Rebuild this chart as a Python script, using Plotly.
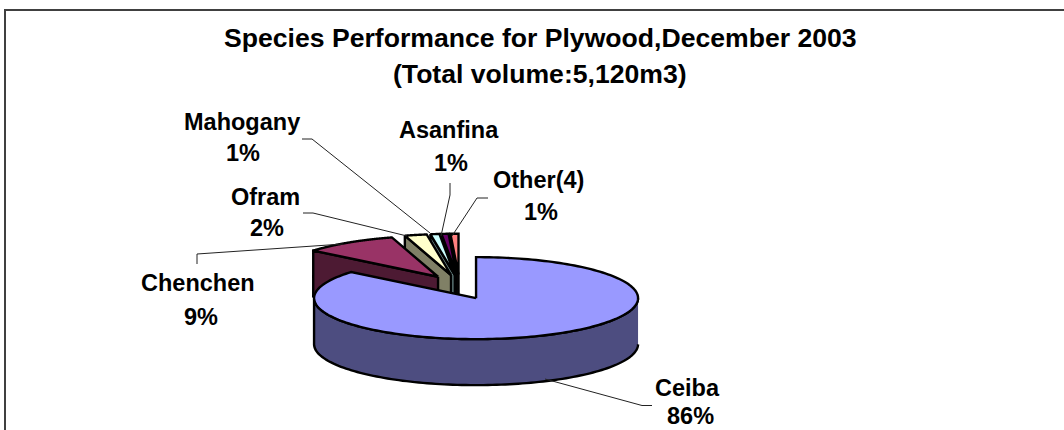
import numpy as np
import plotly.graph_objects as go

# --- data ---
species = ["Ceiba", "Chenchen", "Ofram", "Mahogany", "Asanfina", "Other(4)"]
values = [86.0, 9.4, 2.2, 0.9, 0.7, 0.8]
title_lines = ["Species Performance for Plywood,December 2003", "(Total volume:5,120m3)"]

# --- style ---
top_colors = ["#9999FF", "#993366", "#FFFFCC", "#CCFFFF", "#660066", "#FF8080"]
side_colors = ["#4D4D80", "#4D1A33", "#808066", "#668080", "#330033", "#804040"]
CX, CY = 459.5, 287.0
RX, RY = 162.0, 41.0
DEPTH = 46.0
EX, EY = 0.24, 0.30
LW = 2.4
FONT = "Liberation Sans"
LABEL_SIZE = 23.5
TITLE_SIZE = 26.6

label_pos = {
    "Ceiba": ((687, 388), (690, 416)),
    "Chenchen": ((198, 283), (201, 317)),
    "Ofram": ((265, 197), (267, 228)),
    "Mahogany": ((242, 122), (243, 153)),
    "Asanfina": ((449, 130), (451, 163)),
    "Other(4)": ((538, 180), (541, 212)),
}
title_pos = [(540, 38), (540, 74)]
leaders = [
    [(652, 405.5), (642, 405.5), (545, 379)],
    [(197, 264), (197, 254), (343, 244)],
    [(303, 213), (313, 213), (407, 236)],
    [(302, 139), (312, 139), (430, 233)],
    [(450, 183), (450, 195), (441, 236)],
    [(488, 198), (477, 198), (452, 236)],
]

fig = go.Figure()


def poly(xs, ys, color):
    fig.add_trace(go.Scatter(x=xs, y=ys, mode="lines", fill="toself", fillcolor=color,
                             line=dict(color="black", width=LW, simplify=False), hoverinfo="skip",
                             showlegend=False))


fractions = np.array(values) / sum(values)
ends = np.cumsum(fractions) * 2 * np.pi
starts = ends - fractions * 2 * np.pi

# back slices first, Ceiba last
for i in range(len(values) - 1, -1, -1):
    a0, a1 = starts[i], ends[i]
    mid = (a0 + a1) / 2
    ax = CX + EX * RX * np.sin(mid)
    ay = CY - EY * RY * np.cos(mid)
    t = np.linspace(a0, a1, 200)
    ox = ax + RX * np.sin(t)
    oy = ay - RY * np.cos(t)
    # front wall along the outer rim
    front = (t >= np.pi / 2) & (t <= 3 * np.pi / 2)
    if front.any():
        fx, fy = ox[front], oy[front]
        poly(list(fx) + list(fx[::-1]), list(fy) + list(fy[::-1] + DEPTH), side_colors[i])
    # cut wall on the start edge of the slices on the far side
    if a0 > np.pi:
        poly([ax, ox[0], ox[0], ax, ax], [ay, oy[0], oy[0] + DEPTH, ay + DEPTH, ay], side_colors[i])
    poly([ax] + list(ox) + [ax], [ay] + list(oy) + [ay], top_colors[i])

shapes = []
for pts in leaders:
    path = "M " + " L ".join(f"{x} {y}" for x, y in pts)
    shapes.append(dict(type="path", path=path, line=dict(color="#222222", width=1), layer="above"))
shapes.append(dict(type="path", path="M 5 430 L 5 10 L 1064 10",
                   line=dict(color="#404040", width=2), layer="above"))

annotations = []


def txt(s, pos, size):
    annotations.append(dict(text=f"<b>{s}</b>", x=pos[0], y=pos[1], xref="x", yref="y",
                            showarrow=False, xanchor="center", yanchor="middle",
                            font=dict(family=FONT, size=size, color="black")))


for s, p in zip(title_lines, title_pos):
    txt(s, p, TITLE_SIZE)
for name, v in zip(species, values):
    p1, p2 = label_pos[name]
    txt(name, p1, LABEL_SIZE)
    txt(f"{round(v)}%", p2, LABEL_SIZE)

fig.update_layout(
    width=1064, height=430, margin=dict(l=0, r=0, t=0, b=0),
    paper_bgcolor="white", plot_bgcolor="white",
    xaxis=dict(range=[0, 1064], visible=False, fixedrange=True),
    yaxis=dict(range=[430, 0], visible=False, fixedrange=True),
    shapes=shapes, annotations=annotations, showlegend=False,
)
fig.write_html("out.html", config=dict(displayModeBar=False),
               post_script="document.body.style.margin='0';document.documentElement.style.overflow='hidden';")
